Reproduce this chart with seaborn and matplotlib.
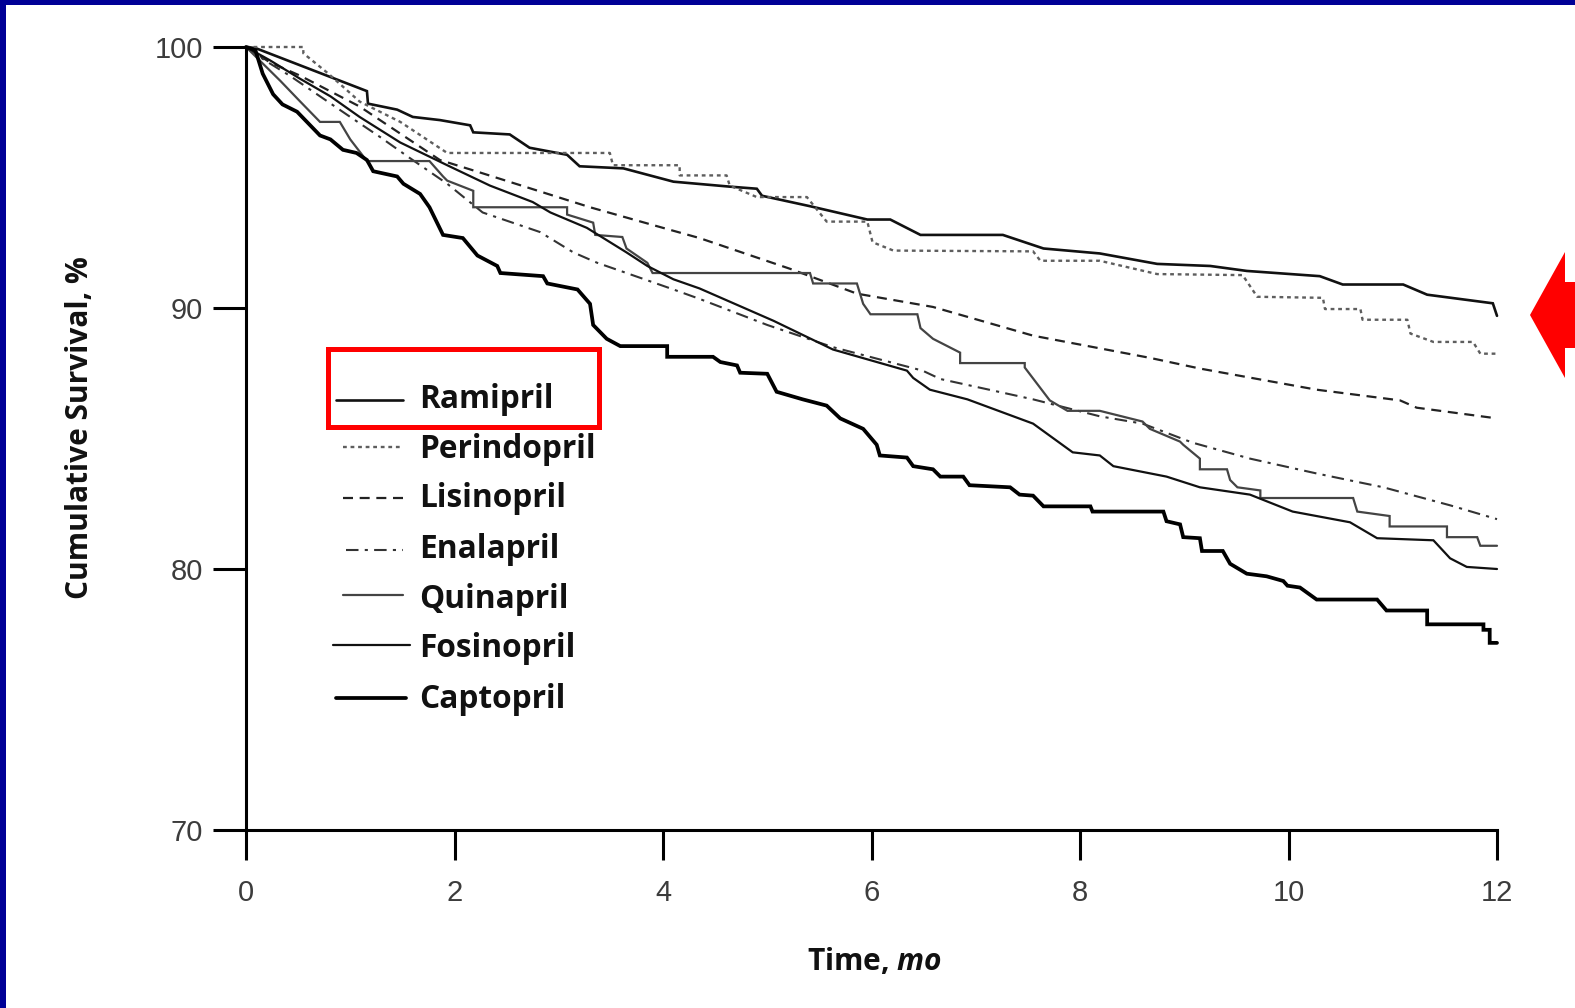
import matplotlib
matplotlib.use("Agg")
import matplotlib.pyplot as plt
import seaborn as sns
from matplotlib.lines import Line2D
from matplotlib.patches import Rectangle, Polygon
from matplotlib.transforms import Affine2D

# ---------------- data (months, cumulative survival %) ----------------
drugs = ["Ramipril", "Perindopril", "Lisinopril", "Enalapril",
         "Quinapril", "Fosinopril", "Captopril"]

ramipril_t = [0, 0.09, 1.16, 1.17, 1.45, 1.6, 1.86, 2.15, 2.18, 2.53, 2.72, 3.08, 3.2, 3.62, 4.1,
              4.64, 4.9, 4.95, 5.41, 5.96, 6.18, 6.47, 7.26, 7.65, 8.19, 8.74, 9.25, 9.6, 10.3,
              10.52, 11.1, 11.33, 11.96, 12.0]
ramipril_s = [100, 99.96, 98.31, 97.83, 97.6, 97.32, 97.2, 97.0, 96.73, 96.65, 96.14, 95.87, 95.43,
              95.35, 94.84, 94.65, 94.57, 94.3, 93.9, 93.39, 93.39, 92.8, 92.8, 92.28, 92.09, 91.69,
              91.61, 91.42, 91.22, 90.9, 90.9, 90.51, 90.18, 89.7]

perindopril_t = [0, 0.55, 0.55, 0.79, 1.09, 1.48, 1.93, 3.49, 3.52, 4.16, 4.16, 4.61, 4.64, 4.9,
                 5.38, 5.57, 5.96, 6.01, 6.21, 7.55, 7.62, 8.19, 8.74, 9.56, 9.7, 10.33, 10.35,
                 10.69, 10.71, 11.14, 11.17, 11.39, 11.77, 11.84, 12.0]
perindopril_s = [100, 100, 99.76, 98.98, 97.91, 97.13, 95.94, 95.94, 95.47, 95.47, 95.08, 95.08,
                 94.69, 94.25, 94.25, 93.31, 93.31, 92.52, 92.2, 92.17, 91.81, 91.81, 91.3, 91.26,
                 90.43, 90.39, 89.96, 89.96, 89.55, 89.55, 89.02, 88.7, 88.7, 88.25, 88.25]

lisinopril_t = [0, 0.23, 0.52, 1.09, 1.86, 2.27, 3.3, 4.0, 4.35, 5.22, 5.86, 6.59, 7.55, 8.67,
                9.15, 10.27, 11.07, 11.23, 12.0]
lisinopril_s = [100, 99.41, 98.9, 97.72, 95.67, 95.16, 93.86, 93.07, 92.68, 91.5, 90.55, 90.04,
                88.94, 88.09, 87.68, 86.87, 86.46, 86.18, 85.77]

enalapril_t = [0, 0.18, 0.42, 0.71, 1.0, 1.29, 1.57, 1.93, 2.27, 2.82, 3.14, 3.37, 3.65, 4.1,
               4.35, 5.0, 5.63, 6.49, 6.66, 7.55, 8.19, 8.6, 9.08, 9.63, 10.27, 10.91, 11.55, 12.0]
enalapril_s = [100, 99.49, 98.9, 98.11, 97.32, 96.54, 95.75, 94.76, 93.66, 92.91, 92.13, 91.73,
               91.34, 90.71, 90.35, 89.35, 88.5, 87.6, 87.28, 86.5, 85.85, 85.57, 84.84, 84.23,
               83.66, 83.13, 82.44, 81.91]

quinapril_t = [0, 0.15, 0.33, 0.52, 0.71, 0.9, 1.0, 1.16, 1.76, 1.89, 1.93, 2.18, 2.18, 3.08,
               3.08, 3.33, 3.35, 3.61, 3.65, 3.85, 3.9, 5.41, 5.44, 5.86, 5.89, 5.92, 5.99, 6.44,
               6.47, 6.59, 6.85, 6.85, 7.47, 7.47, 7.71, 7.88, 8.19, 8.6, 8.67, 8.96, 8.99, 9.15,
               9.15, 9.41, 9.44, 9.51, 9.73, 9.73, 10.62, 10.66, 10.97, 10.97, 11.52, 11.52,
               11.81, 11.84, 12.0]
quinapril_s = [100, 99.41, 98.7, 97.91, 97.13, 97.13, 96.46, 95.63, 95.63, 95.04, 94.88, 94.49,
               93.86, 93.86, 93.58, 93.27, 92.8, 92.72, 92.28, 91.73, 91.34, 91.34, 90.94, 90.94,
               90.55, 90.16, 89.76, 89.76, 89.23, 88.82, 88.29, 87.89, 87.89, 87.72, 86.46, 86.06,
               86.06, 85.65, 85.37, 84.88, 84.76, 84.23, 83.82, 83.82, 83.41, 83.13, 83.01, 82.72,
               82.72, 82.2, 82.03, 81.63, 81.63, 81.22, 81.22, 80.89, 80.89]

fosinopril_t = [0, 0.23, 0.52, 0.81, 1.09, 1.48, 1.93, 2.34, 2.75, 2.92, 3.27, 3.65, 3.85, 4.1,
                4.35, 5.06, 5.63, 6.34, 6.4, 6.56, 6.92, 7.55, 7.93, 8.19, 8.32, 8.83, 9.15, 9.63,
                10.04, 10.59, 10.85, 11.39, 11.55, 11.71, 12.0]
fosinopril_s = [100, 99.49, 98.78, 98.11, 97.32, 96.34, 95.47, 94.69, 94.06, 93.66, 93.07, 92.13,
                91.61, 91.1, 90.75, 89.51, 88.41, 87.6, 87.32, 86.87, 86.5, 85.57, 84.47, 84.35,
                83.94, 83.54, 83.13, 82.85, 82.2, 81.79, 81.18, 81.1, 80.41, 80.08, 80.0]

captopril_t = [0, 0.09, 0.16, 0.26, 0.35, 0.49, 0.71, 0.81, 0.93, 1.06, 1.16, 1.22, 1.45, 1.51,
               1.67, 1.76, 1.89, 2.08, 2.22, 2.41, 2.44, 2.85, 2.89, 3.18, 3.3, 3.33, 3.46, 3.59,
               4.04, 4.04, 4.48, 4.55, 4.71, 4.74, 5.0, 5.09, 5.34, 5.57, 5.7, 5.92, 6.05, 6.08,
               6.34, 6.4, 6.59, 6.66, 6.88, 6.94, 7.33, 7.42, 7.55, 7.65, 8.1, 8.12, 8.8, 8.83,
               8.96, 8.99, 9.15, 9.17, 9.37, 9.44, 9.6, 9.79, 9.95, 9.99, 10.11, 10.27, 10.85,
               10.94, 11.33, 11.33, 11.87, 11.87, 11.93, 11.93, 12.0]
captopril_s = [100, 99.88, 98.98, 98.19, 97.8, 97.52, 96.61, 96.46, 96.06, 95.94, 95.67, 95.24,
               95.04, 94.76, 94.37, 93.86, 92.8, 92.68, 92.01, 91.61, 91.34, 91.22, 90.94, 90.71,
               90.16, 89.35, 88.82, 88.54, 88.54, 88.13, 88.13, 87.93, 87.8, 87.52, 87.48, 86.79,
               86.5, 86.26, 85.77, 85.37, 84.76, 84.35, 84.27, 83.94, 83.82, 83.54, 83.54, 83.21,
               83.13, 82.85, 82.81, 82.4, 82.4, 82.2, 82.2, 81.83, 81.71, 81.22, 81.18, 80.69,
               80.69, 80.2, 79.82, 79.72, 79.54, 79.36, 79.29, 78.83, 78.83, 78.41, 78.41, 77.88,
               77.88, 77.67, 77.67, 77.17, 77.17]

x_ticks = [0, 2, 4, 6, 8, 10, 12]
y_ticks = [70, 80, 90, 100]
x_label_main = "Time, "
x_label_unit = "mo"
y_label = "Cumulative Survival, %"

series = {
    "Ramipril": (ramipril_t, ramipril_s),
    "Perindopril": (perindopril_t, perindopril_s),
    "Lisinopril": (lisinopril_t, lisinopril_s),
    "Enalapril": (enalapril_t, enalapril_s),
    "Quinapril": (quinapril_t, quinapril_s),
    "Fosinopril": (fosinopril_t, fosinopril_s),
    "Captopril": (captopril_t, captopril_s),
}

# ---------------- styles ----------------
styles = {
    "Ramipril":    dict(color="#111111", linewidth=1.9, linestyle="-"),
    "Perindopril": dict(color="#5e5e5e", linewidth=1.7, linestyle=(0, (1.6, 1.6))),
    "Lisinopril":  dict(color="#222222", linewidth=1.6, linestyle=(0, (4.5, 3))),
    "Enalapril":   dict(color="#333333", linewidth=1.5, linestyle=(0, (6, 3, 1.5, 3))),
    "Quinapril":   dict(color="#444444", linewidth=1.6, linestyle="-"),
    "Fosinopril":  dict(color="#111111", linewidth=1.6, linestyle="-"),
    "Captopril":   dict(color="#000000", linewidth=2.7, linestyle="-"),
}

sns.set_style("ticks")
plt.rcParams["font.family"] = ["Open Sans", "DejaVu Sans"]
plt.rcParams["mathtext.fontset"] = "custom"
plt.rcParams["mathtext.rm"] = "Open Sans:bold"
plt.rcParams["mathtext.it"] = "Open Sans:italic:bold"

W, H = 1575, 1008
fig = plt.figure(figsize=(W / 100, H / 100), dpi=100)
fig.patch.set_facecolor("white")
px = Affine2D().scale(1 / W, -1 / H).translate(0, 1) + fig.transFigure

ax = fig.add_axes([246 / W, 1 - 830 / H, (1497 - 246) / W, (830 - 47) / H])
ax.set_facecolor("white")

for name in drugs:
    t, s = series[name]
    sns.lineplot(x=t, y=s, ax=ax, estimator=None, sort=False, clip_on=False,
                 solid_joinstyle="miter", **styles[name])

ax.set_xlim(0, 12)
ax.set_ylim(70, 100)
ax.set_xticks(x_ticks)
ax.set_yticks(y_ticks)
ax.set_xticklabels([str(v) for v in x_ticks], fontfamily="Liberation Sans")
ax.set_yticklabels([str(v) for v in y_ticks], fontfamily="Liberation Sans")
ax.set_xlabel("")
ax.set_ylabel("")
sns.despine(ax=ax)
for sp in ["left", "bottom"]:
    ax.spines[sp].set_linewidth(2.2)
    ax.spines[sp].set_color("black")
ax.tick_params(axis="x", direction="out", length=21.6, width=2.2, pad=14,
               labelsize=21, labelcolor="#3c3c3c", color="black")
ax.tick_params(axis="y", direction="out", length=23.8, width=2.2, pad=7,
               labelsize=21, labelcolor="#3c3c3c", color="black")
ax.grid(False)

# axis titles
fig.text(875 / W, 1 - 961 / H, x_label_main + r"$\mathit{" + x_label_unit + "}$",
         ha="center", va="center", fontsize=21.5, fontweight="bold", color="#111111")
fig.text(80 / W, 1 - 428 / H, y_label, rotation=90, ha="center", va="center",
         fontsize=21.5, fontweight="bold", color="#111111")

# legend (drawn inside the plot area, left side)
legend_rows = {
    "Ramipril":    (336, 403, 400, 408),
    "Perindopril": (343, 400, 447, 458),
    "Lisinopril":  (343, 403, 498, 507),
    "Enalapril":   (346, 403, 550, 558),
    "Quinapril":   (343, 403, 595, 608),
    "Fosinopril":  (333, 410, 645, 657),
    "Captopril":   (336, 406, 698, 708),
}
for name in drugs:
    x0, x1, yl, yb = legend_rows[name]
    st = styles[name]
    fig.add_artist(Line2D([x0, x1], [yl, yl], transform=px, color=st["color"],
                          linewidth=st["linewidth"], linestyle=st["linestyle"]))
    fig.text(419 / W, 1 - yb / H, name, ha="left", va="baseline",
             fontsize=22.8, fontweight="bold", color="#111111")

# red highlight box around Ramipril entry
fig.add_artist(Rectangle((327.5, 348.5), 271, 78, transform=px, fill=False,
                         edgecolor="#ff0000", linewidth=3.6))

# red arrow on the right
fig.add_artist(Polygon([(1530, 315), (1565, 252), (1565, 282), (1580, 282),
                        (1580, 348), (1565, 348), (1565, 378)],
                       closed=True, transform=px, facecolor="#ff0000", edgecolor="none"))

# dark blue frame strips (top and left)
fig.add_artist(Rectangle((0, 0), 6, H, transform=px, facecolor="#000096", edgecolor="none"))
fig.add_artist(Rectangle((0, 0), W, 5, transform=px, facecolor="#000096", edgecolor="none"))

fig.savefig("out.png", dpi=100, facecolor="white")
